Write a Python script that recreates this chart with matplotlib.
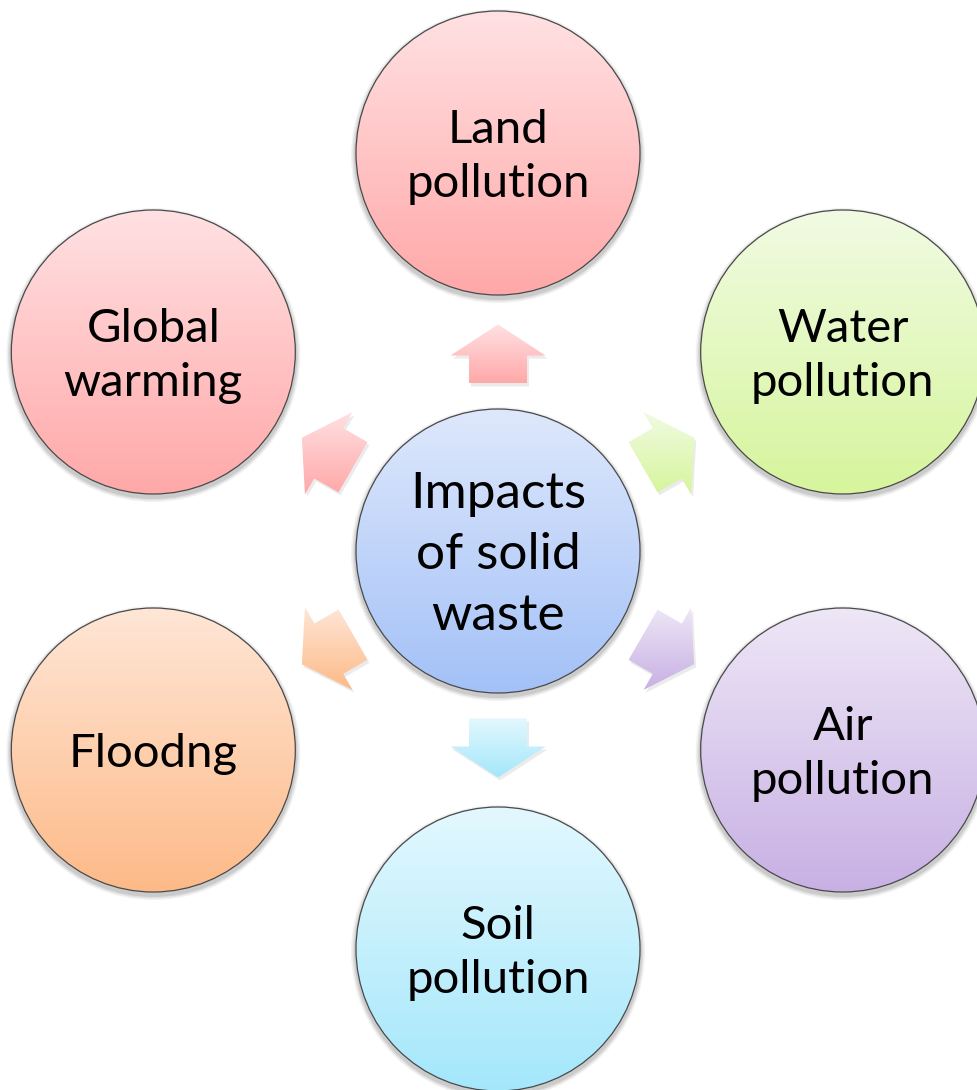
import numpy as np
import matplotlib.pyplot as plt
from matplotlib.patches import Circle, Polygon
from matplotlib.colors import to_rgb

# diagram content
center_label = "Impacts\nof solid\nwaste"
center_colors = ("#DEE8FC", "#A3C1F7")

labels = ["Land\npollution", "Water\npollution", "Air\npollution",
          "Soil\npollution", "Floodng", "Global\nwarming"]
angles = [90, 30, -30, -90, -150, 150]
top_colors = ["#FFE1E3", "#F1FBE3", "#EEE7F6", "#E3F8FE", "#FFE6D6", "#FFE1E3"]
bottom_colors = ["#FFA8A8", "#D6F59C", "#C8B0E4", "#A4E7FB", "#FDBA88", "#FFA8A8"]

W, H = 977, 1090
cx, cy = 498, 551
ring = 398
rad = 142
arrow_dist = 197

fig = plt.figure(figsize=(W / 100, H / 100), dpi=100)
ax = fig.add_axes([0, 0, 1, 1])
ax.set_xlim(0, W)
ax.set_ylim(H, 0)
ax.set_aspect('equal')
ax.axis('off')


def gradient(c1, c2, n=256):
    a = np.array(to_rgb(c1))
    b = np.array(to_rgb(c2))
    t = np.linspace(0, 1, n)[:, None]
    return (a * (1 - t) + b * t)[:, None, :]


def draw_circle(x, y, text, c1, c2, fs=34, ls=1.35):
    # soft drop shadow
    for k, al in [(5, 0.05), (3.5, 0.07), (2, 0.09)]:
        ax.add_patch(Circle((x, y + 3), rad + k, color='black', alpha=al, lw=0, zorder=1))
    im = ax.imshow(gradient(c1, c2), extent=(x - rad, x + rad, y + rad, y - rad),
                   origin='upper', aspect='auto', zorder=2, interpolation='bilinear')
    clip = Circle((x, y), rad, transform=ax.transData, facecolor='none', edgecolor='none')
    ax.add_patch(clip)
    im.set_clip_path(clip)
    ax.add_patch(Circle((x, y), rad, facecolor='none', edgecolor='#4a4a4a', lw=0.9, zorder=3))
    ax.text(x, y + 4, text, ha='center', va='center', fontsize=fs, family='Lato',
            linespacing=ls, multialignment='center', zorder=4)


def draw_arrow(ang, c1, c2):
    # block arrow pointing up in local coordinates
    L, hw, sw, hl = 59, 95, 58, 31
    pts = np.array([[0, L / 2], [hw / 2, L / 2 - hl], [sw / 2, L / 2 - hl], [sw / 2, -L / 2],
                    [-sw / 2, -L / 2], [-sw / 2, L / 2 - hl], [-hw / 2, L / 2 - hl]])
    th = np.deg2rad(ang - 90)
    rot = np.array([[np.cos(th), -np.sin(th)], [np.sin(th), np.cos(th)]])
    p = pts @ rot.T
    ax_x = cx + arrow_dist * np.cos(np.deg2rad(ang))
    ax_y = cy - arrow_dist * np.sin(np.deg2rad(ang))
    xy = np.column_stack([ax_x + p[:, 0], ax_y - p[:, 1]])
    sh = Polygon(xy + [2, 3], closed=True, color='black', alpha=0.08, lw=0, zorder=1)
    ax.add_patch(sh)
    y0, y1 = xy[:, 1].min(), xy[:, 1].max()
    x0, x1 = xy[:, 0].min(), xy[:, 0].max()
    im = ax.imshow(gradient(c1, c2), extent=(x0, x1, y1, y0), origin='upper',
                   aspect='auto', zorder=2, interpolation='bilinear')
    poly = Polygon(xy, closed=True, transform=ax.transData, facecolor='none', edgecolor='none')
    ax.add_patch(poly)
    im.set_clip_path(poly)


for lab, a, c1, c2 in zip(labels, angles, top_colors, bottom_colors):
    x = cx + ring * np.cos(np.deg2rad(a))
    y = cy - ring * np.sin(np.deg2rad(a))
    draw_arrow(a, c1, c2)
    draw_circle(x, y, lab, c1, c2)

draw_circle(cx, cy, center_label, *center_colors, fs=37, ls=1.4)

ax.set_xlim(0, W)
ax.set_ylim(H, 0)
fig.savefig("out.png", dpi=100, facecolor='white')
